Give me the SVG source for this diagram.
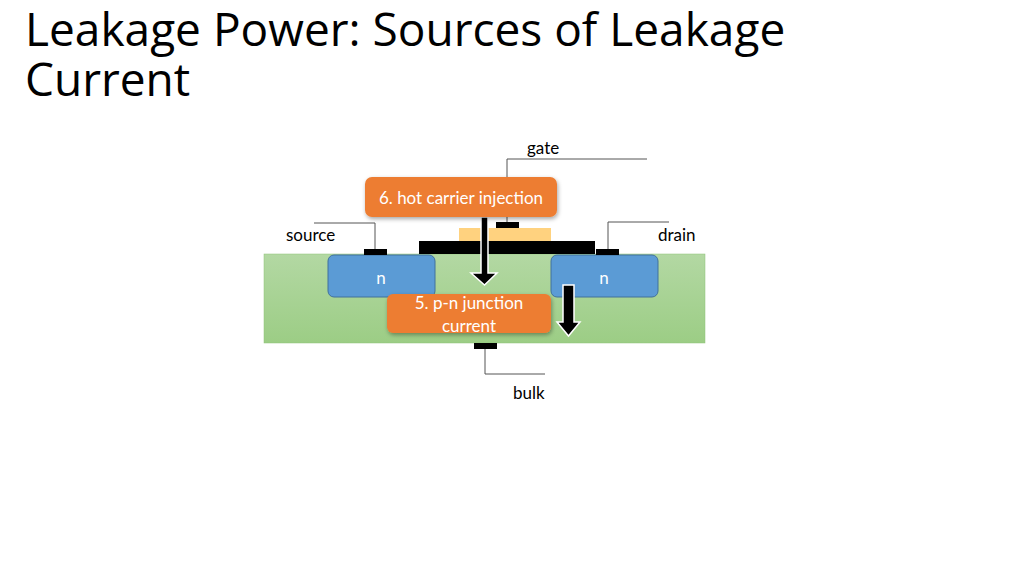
<svg xmlns="http://www.w3.org/2000/svg" width="1024" height="575" viewBox="0 0 1024 575">
<defs>
<linearGradient id="sub" x1="0" y1="0" x2="0" y2="1"><stop offset="0" stop-color="#b3d8a3"/><stop offset="1" stop-color="#9ccd85"/></linearGradient>
<filter id="sh" x="-10%" y="-20%" width="120%" height="150%"><feDropShadow dx="1" dy="2" stdDeviation="2" flood-opacity="0.35"/></filter>
</defs>
<style>
.t{font-family:"Open Sans","Noto Sans",sans-serif;fill:#000}
.c{font-family:Lato,"Liberation Sans",sans-serif;font-size:17px;fill:#000}
.w{font-family:Lato,"Liberation Sans",sans-serif;font-size:17px;fill:#fff;text-anchor:middle}
.ln{fill:none;stroke:#555;stroke-width:1}
.ob{fill:#ed7d31;filter:url(#sh)}
.nb{fill:#5b9bd5;stroke:#41719c;stroke-width:1}
.ar{fill:#000;stroke:#fff;stroke-width:1.5}
</style>
<rect width="1024" height="575" fill="#fff"/>
<text class="t" x="25" y="46" font-size="46">Leakage Power: Sources of Leakage</text>
<text class="t" x="25" y="96" font-size="46">Current</text>
<g id="substrate"><rect x="264" y="254" width="441" height="89" fill="url(#sub)" stroke="#8fc27a" stroke-width="0.5"/></g>
<g id="n-left"><rect class="nb" x="328" y="255" width="107" height="42" rx="6"/><text class="w" x="381" y="284">n</text></g>
<g id="n-right"><rect class="nb" x="551" y="255" width="107" height="42" rx="6"/><text class="w" x="604" y="284">n</text></g>
<g id="gate-stack"><rect x="459" y="228" width="92" height="13" fill="#ffd27f"/><rect x="419" y="241" width="176" height="13" fill="#000"/></g>
<g id="contacts">
<rect x="496" y="222" width="23" height="6"/><rect x="364" y="249" width="23" height="6"/><rect x="596" y="249" width="23" height="6"/><rect x="474" y="343" width="23" height="6"/>
</g>
<g id="leads">
<polyline class="ln" points="507,222 507,159 647,159"/>
<polyline class="ln" points="375,249 375,223 314,223"/>
<polyline class="ln" points="608,249 608,222 669,222"/>
<polyline class="ln" points="485,349 485,374 545,374"/>
</g>
<g id="labels">
<text class="c" x="527" y="154">gate</text>
<text class="c" x="286" y="241">source</text>
<text class="c" x="658" y="241">drain</text>
<text class="c" x="513" y="399">bulk</text>
</g>
<g id="connectors">
<polygon class="ar" points="481,217 488,217 488,273 497,273 484.5,285 471,273 481,273"/>
<polygon class="ar" points="563,285 574,285 574,322 580,322 568.5,336 557,322 563,322"/>
</g>
<g id="box6"><rect class="ob" x="365" y="177" width="192" height="40" rx="7"/><text class="w" x="461" y="204">6. hot carrier injection</text></g>
<g id="box5"><rect class="ob" x="387" y="294" width="164" height="39" rx="6"/><text class="w" x="469" y="309">5. p-n junction</text><text class="w" x="469" y="332">current</text></g>
</svg>
